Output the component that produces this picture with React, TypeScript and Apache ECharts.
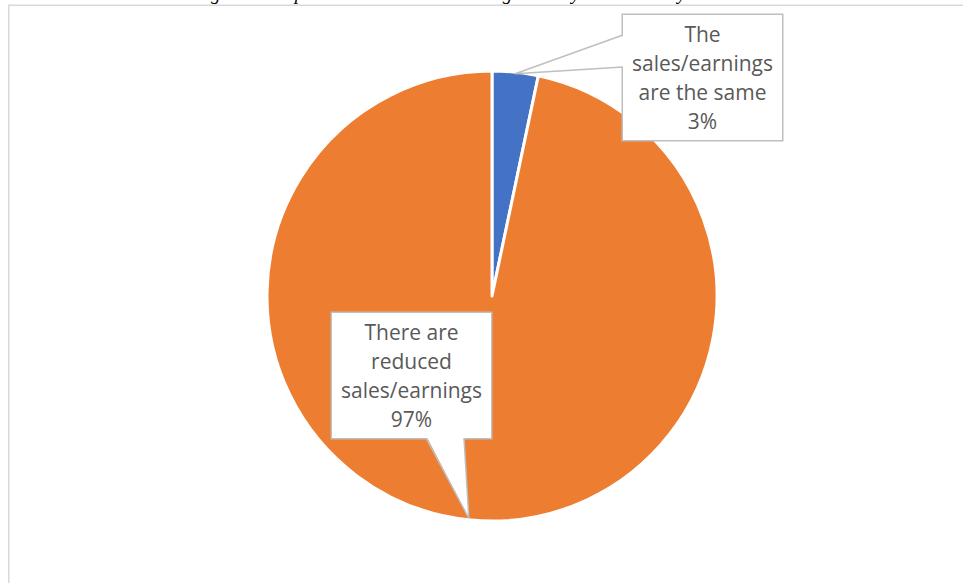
import React, { useEffect, useRef } from "react";
import * as echarts from "echarts";

// ---- data ----
const categories = ["The sales/earnings are the same", "There are reduced sales/earnings"];
const shares = [3.3, 96.7];
const sliceColors = ["#4472C4", "#ED7D31"];
const titleText = "Trading amid the pandemic: sales and earnings seen by each industry";

// ---- layout ----
const W = 963;
const H = 583;
const CENTER: [number, number] = [492, 296];
const RADIUS = 225;
const LABEL_FONT = '21px "Open Sans"';
const LABEL_WIDTH = 151;
const callouts = [
  { x: 623, y: 15, w: 159, h: 125, base: [[623, 35], [623, 67]], inward: [1, 0] },
  { x: 332, y: 313, w: 159, h: 125, base: [[426, 438], [464, 438]], inward: [0, -1] },
];

function wrapWords(text: string): string {
  const ctx = document.createElement("canvas").getContext("2d");
  if (!ctx) return text;
  ctx.font = LABEL_FONT;
  const words = text.split(" ");
  const lines: string[] = [];
  let cur = "";
  for (const w of words) {
    const trial = cur ? cur + " " + w : w;
    if (cur && ctx.measureText(trial).width > LABEL_WIDTH) {
      lines.push(cur);
      cur = w;
    } else {
      cur = trial;
    }
  }
  if (cur) lines.push(cur);
  return lines.join("\n");
}

function sliceTip(i: number): [number, number] {
  const total = shares.reduce((a, b) => a + b, 0);
  let cum = 0;
  for (let k = 0; k < i; k++) cum += shares[k];
  const mid = ((cum + shares[i] / 2) / total) * Math.PI * 2;
  const r = RADIUS - 1.5;
  return [CENTER[0] + r * Math.sin(mid), CENTER[1] - r * Math.cos(mid)];
}

export default function App() {
  const ref = useRef<HTMLDivElement>(null);
  useEffect(() => {
    if (!ref.current) return;
    const chart = echarts.init(ref.current, undefined, { renderer: "svg" });

    const wedges: any[] = [];
    callouts.forEach((c, i) => {
      const tip = sliceTip(i);
      const [b1, b2] = c.base;
      const d = 2.5;
      wedges.push({
        type: "polygon",
        z: 100,
        silent: true,
        shape: {
          points: [
            [b1[0] + c.inward[0] * d, b1[1] + c.inward[1] * d],
            tip,
            [b2[0] + c.inward[0] * d, b2[1] + c.inward[1] * d],
          ],
        },
        style: { fill: "#ffffff", stroke: null },
      });
      wedges.push({
        type: "polyline",
        z: 101,
        silent: true,
        shape: { points: [b1, tip, b2] },
        style: { stroke: "#bfbfbf", lineWidth: 1.5, fill: null },
      });
    });

    chart.setOption({
      animation: false,
      backgroundColor: "#ffffff",
      graphic: [
        {
          type: "rect",
          z: 0,
          silent: true,
          shape: { x: 8.75, y: 5.25, width: 1200, height: 900 },
          style: { fill: null, stroke: "#d9d9d9", lineWidth: 1.5 },
        },
        {
          type: "text",
          z: 0,
          silent: true,
          x: 161,
          y: -6.3,
          style: {
            text: titleText,
            font: 'italic 18.75px "Liberation Serif"',
            fill: "#000000",
            textAlign: "left",
            textVerticalAlign: "middle",
          },
        },
        ...wedges,
      ],
      series: [
        {
          type: "pie",
          silent: true,
          center: CENTER,
          radius: RADIUS,
          startAngle: 90,
          clockwise: true,
          avoidLabelOverlap: false,
          itemStyle: { borderColor: "#ffffff", borderWidth: 3 },
          label: {
            show: true,
            position: "outside",
            formatter: (p: any) => `${wrapWords(p.name)}\n${Math.round(p.percent)}%`,
            color: "#595959",
            fontFamily: "Open Sans",
            fontSize: 21,
            lineHeight: 29,
            width: LABEL_WIDTH,
            overflow: "none",
            align: "center",
            backgroundColor: "#ffffff",
            borderColor: "#bfbfbf",
            borderWidth: 1.5,
            padding: [4.5, 4],
          },
          labelLine: { show: false },
          labelLayout: (params: any) => {
            const c = callouts[params.dataIndex];
            return { x: c.x + c.w / 2, y: c.y, align: "center", verticalAlign: "top" };
          },
          data: categories.map((name, i) => ({
            name,
            value: shares[i],
            itemStyle: { color: sliceColors[i] },
          })),
        },
      ],
    });
    return () => chart.dispose();
  }, []);
  return (
    <div
      ref={ref}
      style={{ position: "absolute", left: 0, top: 0, width: W, height: H }}
    />
  );
}
